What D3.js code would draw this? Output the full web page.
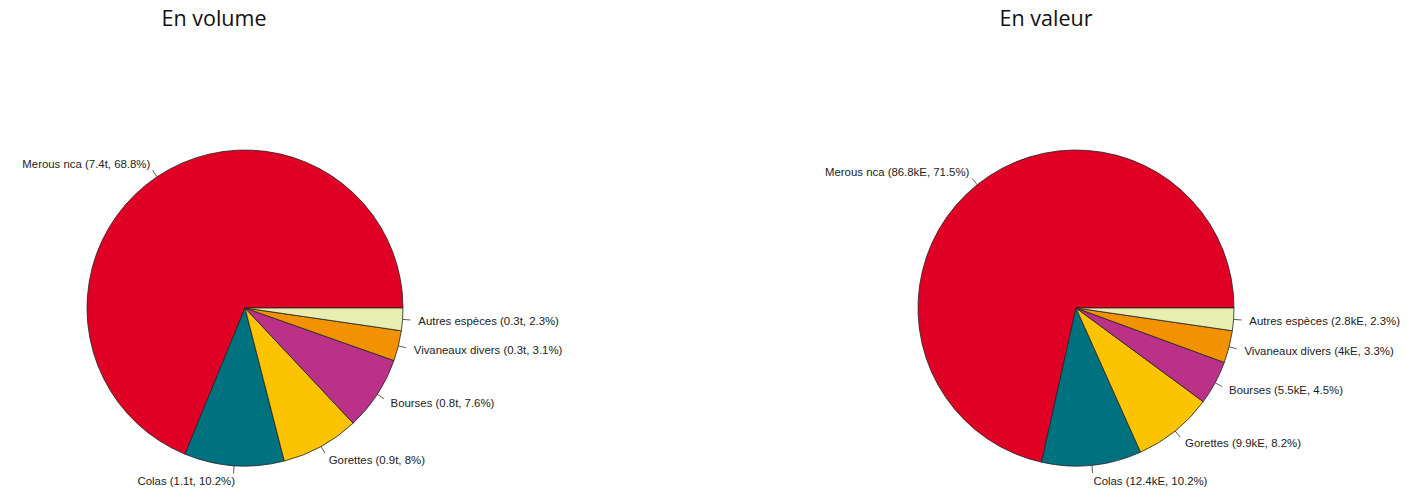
<!DOCTYPE html>
<html><head><meta charset="utf-8">
<script src="https://cdn.jsdelivr.net/npm/d3@7"></script>
<style>body{margin:0;background:#fff}svg{display:block}</style>
</head><body>
<svg id="c" width="1406" height="495"></svg>
<script>
const categories = ["Merous nca","Colas","Gorettes","Bourses","Vivaneaux divers","Autres espèces"];
const colors = ["#E00026","#00727F","#FCC300","#BB3188","#F39200","#E8EDB0"];
const volumeShares = [68.8,10.2,8,7.6,3.1,2.3];
const volumeLabels = ["7.4t","1.1t","0.9t","0.8t","0.3t","0.3t"];
const valeurShares = [71.5,10.2,8.2,4.5,3.3,2.3];
const valeurLabels = ["86.8kE","12.4kE","9.9kE","5.5kE","4kE","2.8kE"];
const titles = ["En volume","En valeur"];

const svg = d3.select("#c");
const panels = [
  {cx:245, cy:308, tx:214, shares:volumeShares, labs:volumeLabels, title:titles[0]},
  {cx:1076, cy:308, tx:1046, shares:valeurShares, labs:valeurLabels, title:titles[1]}
];
const R = 158;
panels.forEach(p => {
  const g = svg.append("g");
  g.append("text").attr("x",p.tx).attr("y",26).attr("text-anchor","middle")
    .attr("font-family","'Open Sans', 'Noto Sans', sans-serif").attr("font-size",21.5)
    .attr("fill","#111").text(p.title);
  // R pie: counter-clockwise starting at 3 o'clock
  const pie = d3.pie().sort(null).value(d=>d)
    .startAngle(Math.PI/2).endAngle(Math.PI/2 - 2*Math.PI);
  const arcs = pie(p.shares);
  const arc = d3.arc().innerRadius(0).outerRadius(R);
  const pg = g.append("g").attr("transform",`translate(${p.cx},${p.cy})`);
  pg.selectAll("path").data(arcs).join("path")
    .attr("d",arc).attr("fill",(d,i)=>colors[i])
    .attr("stroke","#222").attr("stroke-width",0.8).attr("stroke-linejoin","round");
  arcs.forEach((a,i)=>{
    const mid = (a.startAngle + a.endAngle)/2; // d3 angle: 0 at top, clockwise
    const sx = Math.sin(mid), sy = -Math.cos(mid);
    pg.append("line").attr("x1",sx*R).attr("y1",sy*R).attr("x2",sx*R*1.05).attr("y2",sy*R*1.05)
      .attr("stroke","#333").attr("stroke-width",0.8);
    pg.append("text").attr("x",sx*R*1.1 + (sx>0?0:2)).attr("y",sy*R*1.1).attr("dy","0.35em")
      .attr("text-anchor", sx>0?"start":"end")
      .attr("font-family","'Liberation Sans', Arial, sans-serif").attr("font-size",11.4)
      .attr("fill","#222")
      .text(`${categories[i]} (${p.labs[i]}, ${p.shares[i]}%)`);
  });
});
</script>
</body></html>
